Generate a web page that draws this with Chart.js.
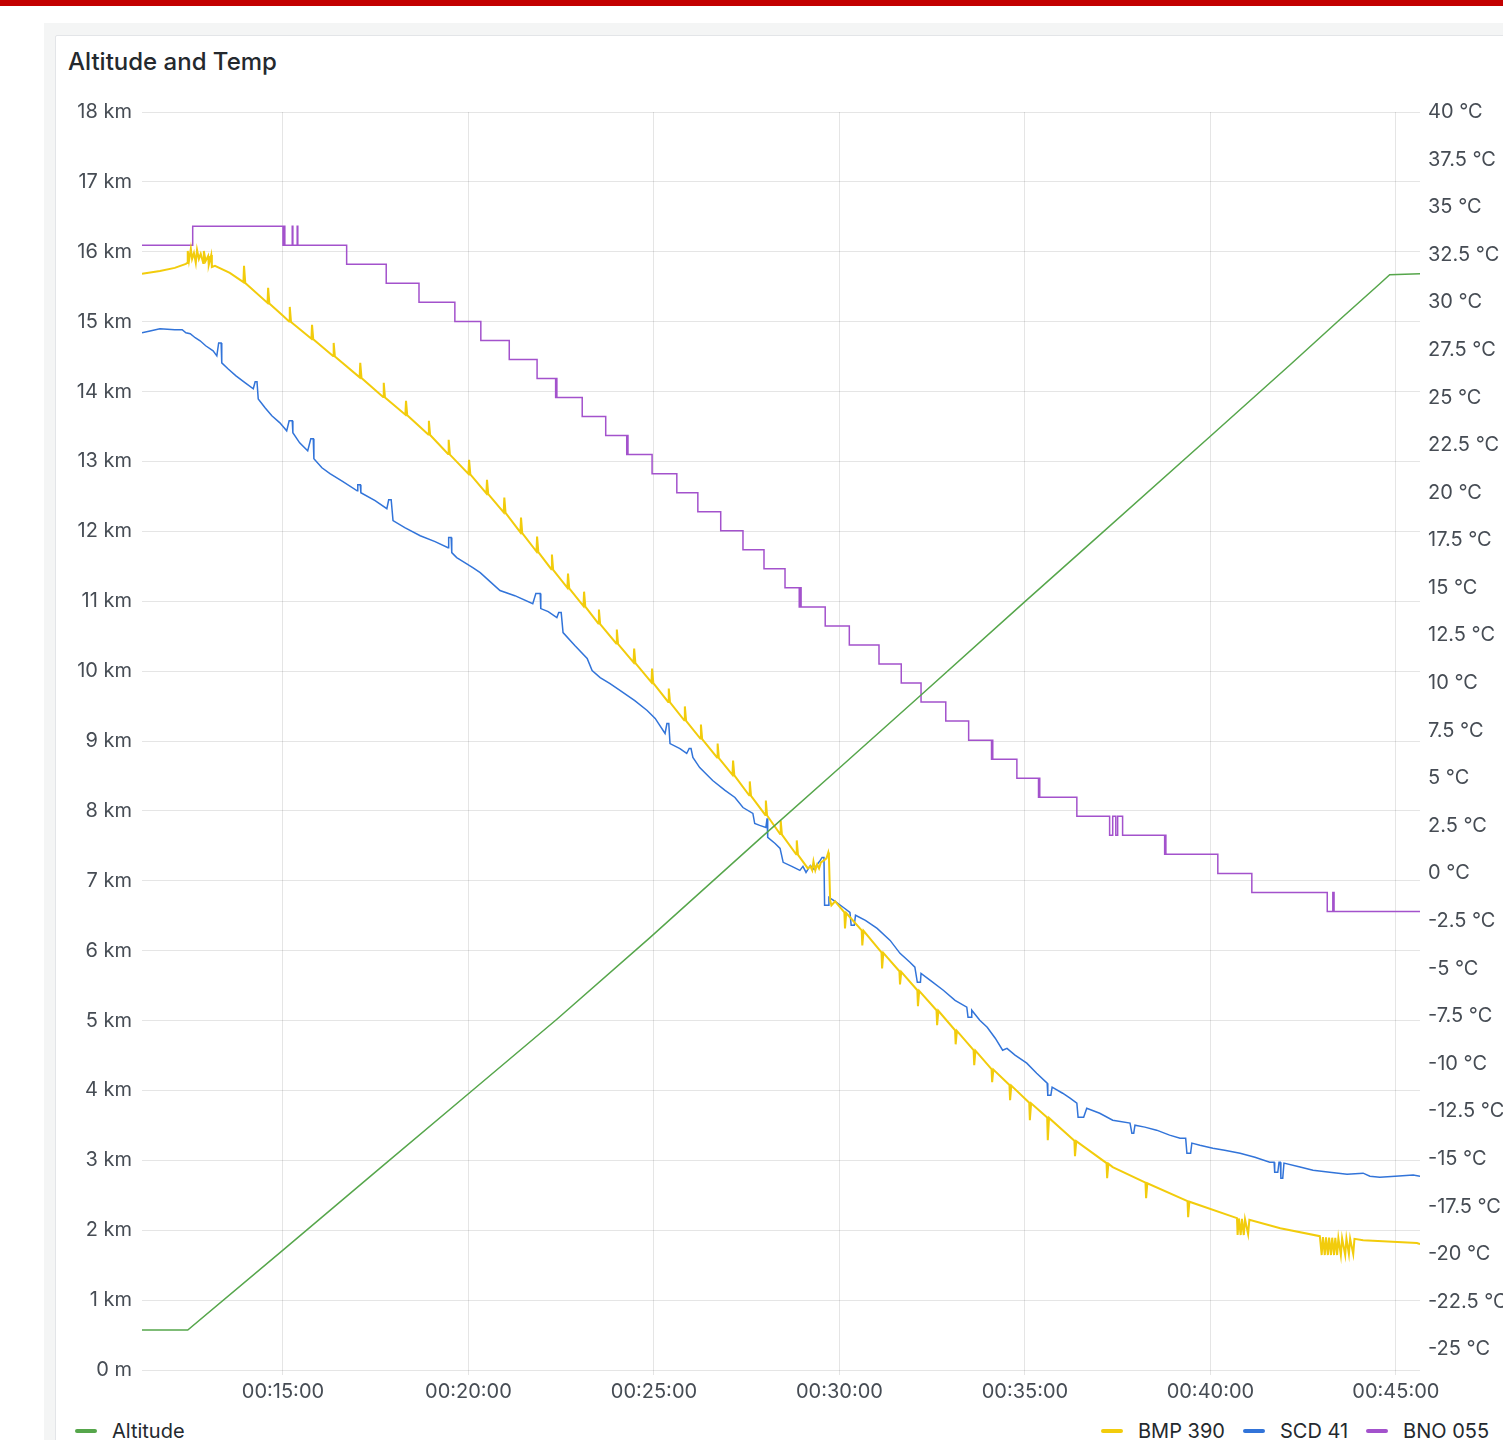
<!DOCTYPE html>
<html>
<head>
<meta charset="utf-8">
<script src="https://cdn.jsdelivr.net/npm/chart.js@4.4.1/dist/chart.umd.min.js"></script>
<style>
  html, body { margin:0; padding:0; }
  body { width:1503px; height:1440px; overflow:hidden; background:#ffffff; position:relative; font-family:Inter, "Noto Sans", sans-serif; }
  #redbar { position:absolute; left:0; top:0; width:1503px; height:6px; background:#c30000; }
  #outer { position:absolute; left:44px; top:23px; width:1470px; height:1430px; background:#f4f5f5; }
  #panel { position:absolute; left:55px; top:35px; width:1500px; height:1420px; background:#ffffff; border:1px solid #e3e5e8; border-radius:2px; box-sizing:border-box; }
  #title { position:absolute; left:68px; top:48px; font-size:24px; line-height:28px; font-weight:500; color:#24292e; white-space:nowrap; }
  #chart { position:absolute; left:0; top:90px; }
  .leg { position:absolute; top:1419px; height:24px; display:flex; align-items:center; font-size:20px; color:#24292e; white-space:nowrap; }
  .leg span.m { display:inline-block; width:22px; height:4px; border-radius:2px; margin-right:15px; }
  .leg span.t { margin-right:18px; }
</style>
</head>
<body>
<div id="redbar"></div>
<div id="outer"></div>
<div id="panel"></div>
<div id="title">Altitude and Temp</div>
<canvas id="chart" width="1600" height="1320"></canvas>
<div class="leg" style="left:75px;"><span class="m" style="background:#56A64B"></span><span class="t">Altitude</span></div>
<div class="leg" style="left:1101px;">
  <span class="m" style="background:#F2CC0C"></span><span class="t">BMP 390</span>
  <span class="m" style="background:#3274D9"></span><span class="t">SCD 41</span>
  <span class="m" style="background:#A352CC"></span><span class="t">BNO 055</span>
</div>
<script>
// time axis in seconds of mission time
const timeMin = 672;
const timeMax = 2739;
const timeTicks = [900, 1200, 1500, 1800, 2100, 2400, 2700];
const altTicks = [0, 1000, 2000, 3000, 4000, 5000, 6000, 7000, 8000, 9000, 10000, 11000, 12000, 13000, 14000, 15000, 16000, 17000, 18000];
const tempTicks = [-25, -22.5, -20, -17.5, -15, -12.5, -10, -7.5, -5, -2.5, 0, 2.5, 5, 7.5, 10, 12.5, 15, 17.5, 20, 22.5, 25, 27.5, 30, 32.5, 35, 37.5, 40];
const altMin = 0, altMax = 18000;
const tempMin = -26.09, tempMax = 40;

// Altitude [s, metres]
const altitude = [
  [672,572],[746,572],[900,1716],[1057,2888],[1199,3946],[1343,5019],[1494,6191],[1671,7599],[1799,8607],
  [1932,9658],[2100,10995],[2189,11696],[2399,13354],[2529,14384],[2609,15027],[2674,15542],[2690,15671],[2739,15685]
];

// BMP 390 [s, °C]
const bmp390 = [
  [672,31.50],[701,31.65],[725,31.81],[743,32.02],
  [745,32.07],[746,32.70],[748,32.18],[751,32.81],[753,32.28],[756,32.60],[759,32.07],[761,32.76],[764,32.28],[767,32.55],
  [771,32.07],[772,32.70],[775,32.18],[779,32.44],[780,31.97],[784,32.49],[785,31.86],[790,31.92],[814,31.55],
  [836,31.06],[837,31.92],[839,31.02],
  [875,29.97],[876,30.76],[878,29.94],
  [900,29.29],
  [910,29.00],[911,29.76],[913,28.97],
  [946,28.09],[947,28.82],[949,28.06],
  [981,27.18],[982,27.87],[984,27.15],
  [1024,26.06],[1025,26.82],[1027,26.03],
  [1062,25.03],[1063,25.77],[1065,25.00],
  [1098,24.10],[1099,24.83],[1101,24.07],
  [1135,23.06],[1136,23.78],[1138,23.03],
  [1167,22.03],[1168,22.78],[1170,22.00],
  [1200,20.99],[1201,21.73],[1203,20.96],
  [1229,19.96],[1230,20.68],[1232,19.93],
  [1257,18.97],[1258,19.74],[1260,18.94],
  [1284,17.91],[1285,18.69],[1287,17.88],
  [1310,16.91],[1311,17.69],[1313,16.88],
  [1334,15.98],[1335,16.75],[1337,15.95],
  [1360,15.00],[1361,15.75],[1363,14.97],
  [1386,14.04],[1387,14.80],[1389,14.01],
  [1410,13.13],[1411,13.86],[1413,13.10],
  [1439,12.08],[1440,12.81],[1442,12.05],
  [1467,11.08],[1468,11.81],[1470,11.05],
  [1496,10.03],[1497,10.76],[1499,10.00],
  [1523,9.01],[1524,9.71],[1526,8.98],
  [1549,8.04],[1550,8.77],[1552,8.01],
  [1575,7.08],[1576,7.82],[1578,7.05],
  [1602,6.09],[1603,6.82],[1605,6.06],
  [1627,5.18],[1628,5.93],[1630,5.15],
  [1654,4.10],[1655,4.83],[1657,4.07],
  [1680,3.07],[1681,3.83],[1683,3.04],
  [1704,2.07],[1705,2.78],[1707,2.04],
  [1730,1.00],[1731,1.73],[1733,0.97],
  [1749,0.26],[1753,0.37],[1756,0.16],[1758,0.63],[1761,0.16],[1764,0.47],[1767,0.26],[1770,0.58],[1775,0.68],
  [1779,0.79],[1782,1.10],[1783,0.89],[1785,-1.42],[1787,-1.68],[1793,-1.47],
  [1808,-2.05],[1809,-2.89],[1811,-2.08],
  [1836,-2.99],[1837,-3.78],[1839,-3.02],
  [1868,-4.15],[1869,-4.99],[1871,-4.18],
  [1897,-5.14],[1898,-5.83],[1900,-5.17],
  [1926,-6.14],[1927,-6.98],[1929,-6.17],
  [1957,-7.19],[1958,-7.98],[1960,-7.22],
  [1987,-8.24],[1988,-8.98],[1990,-8.27],
  [2017,-9.28],[2018,-10.08],[2020,-9.31],
  [2046,-10.28],[2047,-10.97],[2049,-10.31],
  [2075,-11.12],[2076,-11.92],[2078,-11.15],
  [2107,-12.05],[2108,-12.97],[2110,-12.08],
  [2136,-12.82],[2137,-14.02],[2139,-12.85],
  [2180,-14.04],[2181,-14.86],[2183,-14.07],
  [2232,-15.22],[2233,-16.01],[2235,-15.25],
  [2242,-15.43],
  [2295,-16.25],[2296,-17.06],[2298,-16.28],
  [2363,-17.22],[2364,-18.06],[2366,-17.25],
  [2443,-18.11],[2444,-19.00],[2446,-18.13],[2449,-19.00],[2451,-18.15],[2454,-19.00],[2456,-18.17],[2461,-18.95],[2463,-18.20],
  [2513,-18.64],[2577,-19.06],
  [2580,-20.05],[2582,-19.11],[2585,-20.05],[2587,-19.12],[2590,-20.05],[2592,-19.13],[2595,-20.05],[2597,-19.14],
  [2600,-20.05],[2602,-19.15],[2605,-20.05],[2607,-19.16],[2611,-20.05],[2613,-19.17],[2618,-20.05],[2620,-19.18],
  [2624,-20.00],[2626,-19.19],[2631,-20.00],[2633,-19.20],
  [2647,-19.27],[2734,-19.42],[2739,-19.48]
];

// SCD 41 [s, °C]
const scd41 = [
  [672,28.40],[685,28.50],[701,28.61],[725,28.56],[737,28.56],[743,28.40],[750,28.35],[758,28.14],[766,27.98],[775,27.72],
  [787,27.45],[793,27.19],[796,27.87],[800,27.87],[801,26.82],[811,26.51],[824,26.14],[839,25.77],[852,25.46],[855,25.83],
  [858,25.83],[860,24.93],[871,24.46],[882,24.04],[895,23.67],[906,23.25],[910,23.78],[915,23.78],[916,23.15],[927,22.62],
  [940,22.20],[945,22.83],[949,22.83],[950,21.78],[963,21.31],[976,21.00],[997,20.58],[1020,20.10],[1021,20.42],[1025,20.42],
  [1026,20.00],[1049,19.58],[1068,19.16],[1071,19.63],[1075,19.63],[1078,18.53],[1097,18.16],[1122,17.74],[1146,17.43],[1167,17.11],
  [1168,17.64],[1172,17.64],[1173,16.85],[1181,16.59],[1194,16.33],[1207,16.06],[1219,15.80],[1235,15.33],[1251,14.86],[1275,14.59],
  [1304,14.17],[1309,14.70],[1316,14.70],[1317,13.91],[1329,13.75],[1343,13.44],[1346,13.70],[1350,13.70],[1353,12.65],[1372,11.97],
  [1392,11.29],[1400,10.66],[1413,10.29],[1429,9.97],[1445,9.61],[1469,9.08],[1489,8.56],[1502,8.14],[1518,7.35],[1521,7.87],
  [1524,7.87],[1526,6.82],[1542,6.56],[1553,6.30],[1557,6.56],[1560,6.56],[1563,6.09],[1574,5.56],[1595,4.88],[1615,4.36],
  [1631,3.99],[1644,3.46],[1660,3.15],[1663,2.62],[1671,2.52],[1681,2.41],[1683,2.89],[1684,1.89],[1696,1.57],[1704,1.31],
  [1709,0.58],[1723,0.37],[1736,0.16],[1741,0.37],[1746,0.05],[1753,0.42],[1759,0.21],[1764,0.47],[1769,0.68],[1772,0.84],
  [1775,0.84],[1776,-1.68],[1782,-1.68],[1783,-1.26],[1793,-1.47],[1806,-1.78],[1817,-2.05],[1819,-2.73],[1824,-2.73],[1826,-2.20],
  [1842,-2.47],[1861,-2.89],[1882,-3.52],[1898,-4.20],[1914,-4.67],[1922,-4.93],[1926,-5.72],[1931,-5.72],[1932,-5.25],[1947,-5.62],
  [1968,-6.14],[1987,-6.67],[2006,-7.03],[2008,-7.56],[2013,-7.56],[2014,-7.19],[2027,-7.72],[2039,-8.08],[2052,-8.66],[2064,-9.29],
  [2071,-9.19],[2084,-9.55],[2103,-9.97],[2119,-10.50],[2136,-11.02],[2137,-11.65],[2142,-11.65],[2144,-11.23],[2161,-11.55],[2173,-11.81],
  [2184,-12.07],[2186,-12.81],[2195,-12.81],[2200,-12.34],[2221,-12.60],[2242,-12.97],[2270,-13.12],[2273,-13.65],[2276,-13.65],[2278,-13.23],
  [2294,-13.33],[2313,-13.49],[2334,-13.75],[2351,-13.91],[2360,-13.91],[2362,-14.70],[2368,-14.70],[2370,-14.17],[2383,-14.28],[2404,-14.44],
  [2423,-14.54],[2448,-14.70],[2472,-14.91],[2496,-15.17],[2503,-15.17],[2504,-15.70],[2509,-15.70],[2511,-15.17],[2513,-15.17],[2514,-16.01],
  [2517,-16.01],[2519,-15.22],[2545,-15.43],[2566,-15.59],[2593,-15.70],[2621,-15.80],[2647,-15.75],[2658,-15.91],[2674,-15.96],[2699,-15.91],
  [2728,-15.85],[2739,-15.91]
];

// BNO 055 [s, °C] (1 °C resolution, drawn as steps)
const bno055 = [
  [672,33],[754,34],[900,33],[902,34],[903,33],[915,34],[916,33],[923,34],[924,33],[1003,32],[1067,31],[1120,30],
  [1178,29],[1220,28],[1266,27],[1311,26],[1341,25],[1342,26],[1343,25],[1384,24],[1422,23],[1456,22],[1457,23],[1458,22],
  [1497,21],[1537,20],[1571,19],[1608,18],[1644,17],[1678,16],[1712,15],[1735,14],[1736,15],[1738,14],[1777,13],
  [1816,12],[1864,11],[1900,10],[1932,9],[1972,8],[2009,7],[2046,6],[2047,7],[2048,6],[2087,5],[2122,4],[2123,5],[2124,4],
  [2184,3],[2237,2],[2242,3],[2247,2],[2250,3],[2258,2],[2326,1],[2327,2],[2328,1],[2412,0],[2467,-1],[2589,-2],
  [2598,-1],[2600,-2],[2739,-2]
];

function fmtTime(v) {
  const s = Math.round(v);
  const h = Math.floor(s / 3600), m = Math.floor((s % 3600) / 60), sec = s % 60;
  const p = n => String(n).padStart(2, '0');
  return p(h) + ':' + p(m) + ':' + p(sec);
}
function fmtAlt(v) { return v === 0 ? '0 m' : (v / 1000) + ' km'; }
function fmtTemp(v) { return v + ' °C'; }

const tickFont = { family: 'Inter', size: 20 };
const tickColor = '#464c54';
const gridColor = 'rgba(0,0,0,0.10)';

new Chart(document.getElementById('chart').getContext('2d'), {
  type: 'line',
  data: {
    datasets: [
      { label: 'Altitude', data: altitude, yAxisID: 'yAlt', borderColor: '#56A64B', borderWidth: 1.5, pointRadius: 0, tension: 0 },
      { label: 'BMP 390', data: bmp390, yAxisID: 'yTemp', borderColor: '#F2CC0C', borderWidth: 2, pointRadius: 0, tension: 0 },
      { label: 'SCD 41', data: scd41, yAxisID: 'yTemp', borderColor: '#3274D9', borderWidth: 1.5, pointRadius: 0, tension: 0 },
      { label: 'BNO 055', data: bno055, yAxisID: 'yTemp', borderColor: '#A352CC', borderWidth: 1.5, pointRadius: 0, stepped: true }
    ]
  },
  options: {
    responsive: false,
    animation: false,
    events: [],
    layout: { padding: { top: 21, left: 0, right: 0, bottom: 0 } },
    plugins: { legend: { display: false }, tooltip: { enabled: false }, title: { display: false } },
    scales: {
      x: {
        type: 'linear', position: 'bottom', min: timeMin, max: timeMax,
        afterBuildTicks: s => { s.ticks = timeTicks.map(v => ({ value: v })); },
        afterFit: s => { s.height = 40; },
        ticks: { callback: v => fmtTime(v), font: tickFont, color: tickColor, padding: 5, maxRotation: 0, autoSkip: false },
        grid: { color: gridColor, drawTicks: true, tickLength: 5, lineWidth: 1 },
        border: { display: false }
      },
      yAlt: {
        type: 'linear', position: 'left', min: altMin, max: altMax,
        afterBuildTicks: s => { s.ticks = altTicks.map(v => ({ value: v })); },
        afterFit: s => { s.width = 142; },
        ticks: { callback: v => fmtAlt(v), font: tickFont, color: tickColor, padding: 10 },
        grid: { color: gridColor, drawTicks: false, lineWidth: 1 },
        border: { display: false }
      },
      yTemp: {
        type: 'linear', position: 'right', min: tempMin, max: tempMax,
        afterBuildTicks: s => { s.ticks = tempTicks.map(v => ({ value: v })); },
        afterFit: s => { s.width = 180; },
        ticks: { callback: v => fmtTemp(v), font: tickFont, color: tickColor, padding: 8 },
        grid: { display: false, drawTicks: false },
        border: { display: false }
      }
    }
  }
});
</script>
</body>
</html>
